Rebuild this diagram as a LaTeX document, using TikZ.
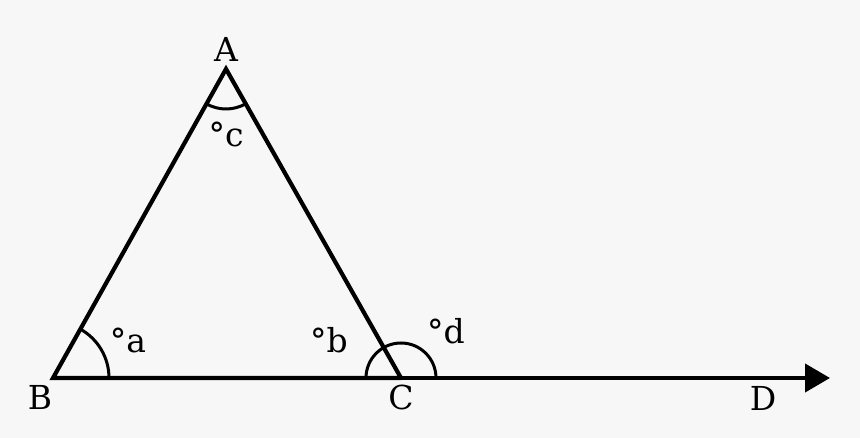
\documentclass[tikz,border=0pt]{standalone}
\usepackage{fontspec}
\setmainfont{DejaVu Serif}
\usetikzlibrary{arrows.meta,positioning,calc}

\begin{document}
\begin{tikzpicture}[x=1pt,y=1pt,
    line/.style={line width=4.2pt},
    angle/.style={line width=3pt},
    lbl/.style={font=\fontsize{33}{38}\selectfont,anchor=base,inner sep=0pt}]
  \fill[gray!6] (0,0) rectangle (860,438);
  \useasboundingbox (0,0) rectangle (860,438);
  \coordinate (B) at (53,60);
  \coordinate (C) at (401,60);
  \coordinate (A) at (226,369);
  \coordinate (D) at (830,60);
  % triangle and the ray
  \draw[line,line join=miter] (C) -- (A) -- (B) -- (C);
  \draw[line,-{Triangle[length=25pt,width=28pt]}] (C) -- (D);
  % angles
  \draw[angle] ($(B)+(56,0)$) arc[start angle=0,end angle=60.75,radius=56];
  \draw[angle] ($(C)+(35,0)$) arc[start angle=0,end angle=180,radius=35];
  \draw[angle] ($(A)+(240.75:40)$) arc[start angle=240.75,end angle=299.5,radius=40];
  % labels
  \node[lbl] (la) at (226,376) {A};
  \node[lbl] (lb) at (40,28) {B};
  \node[lbl] (lc) at (401,28) {C};
  \node[lbl] (ld) at (763,27) {D};
  \node[lbl] (aa) at (128,85) {°a};
  \node[lbl] (ab) at (329,85) {°b};
  \node[lbl] (ac) at (226,291) {°c};
  \node[lbl] (ad) at (446,94) {°d};
\end{tikzpicture}
\end{document}
